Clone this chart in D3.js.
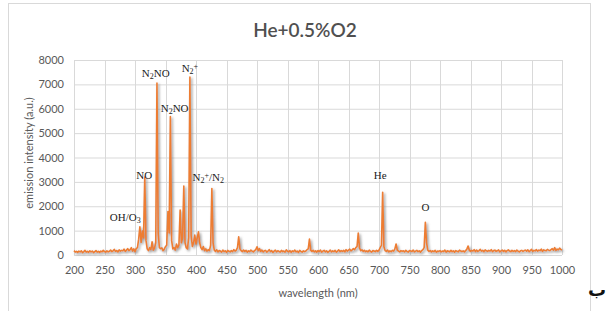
<!DOCTYPE html>
<html>
<head>
<meta charset="utf-8">
<script src="https://cdn.jsdelivr.net/npm/d3@7"></script>
<style>
  body { margin: 0; background: #fff; }
</style>
</head>
<body>
<div id="chart"></div>
<script>
// spectrum sampled every 2 nm, 200..1000 nm
const wlStart = 200;
const wlStep = 2;
const intensity = [
  180,120,150,110,160,130,170,100,140,190, // 200
  120,150,110,170,130,160,100,140,180,120, // 220
  150,110,160,130,190,140,120,170,130,150, // 240
  200,140,170,230,150,180,130,210,160,190, // 260
  170,240,150,200,260,180,220,300,160,250, // 280
  140,260,300,650,1160,520,980,700,3200,600, // 300
  250,180,300,220,540,200,280,500,7050,900, // 320
  300,260,290,180,240,350,400,1780,900,5680, // 340
  600,250,300,200,450,300,400,1840,500,700, // 360
  2830,500,300,250,700,7300,800,350,500,820, // 380
  450,700,950,500,300,220,350,180,250,160, // 400
  220,180,400,2730,500,200,150,210,130,180, // 420
  160,120,200,140,170,110,190,150,130,180, // 440
  140,220,160,200,300,750,250,180,140,200, // 460
  150,190,120,170,140,200,160,130,180,220, // 480
  340,180,260,150,200,130,170,190,120,160, // 500
  220,140,180,110,160,200,130,170,150,120, // 520
  190,140,160,120,210,150,130,180,110,170, // 540
  140,200,130,160,110,190,150,120,170,140, // 560
  160,220,250,650,200,150,190,130,170,120, // 580
  180,140,200,120,160,190,130,170,110,150, // 600
  200,130,170,140,190,120,160,210,140,180, // 620
  150,190,130,220,160,200,240,170,210,260, // 640
  220,300,350,900,300,180,210,150,190,140, // 660
  170,130,200,150,120,180,160,140,190,150, // 680
  200,300,400,2570,350,180,150,200,130,170, // 700
  140,190,160,250,450,200,160,130,180,150, // 720
  170,130,190,150,120,180,160,140,200,130, // 740
  160,190,140,170,120,180,220,300,1340,500, // 760
  200,150,180,130,170,140,190,120,160,150, // 780
  180,130,160,140,200,120,170,150,130,190, // 800
  140,170,120,180,150,130,200,160,140,170, // 820
  130,180,240,370,200,150,190,160,220,140, // 840
  200,150,180,230,160,190,140,210,170,150, // 860
  190,160,220,140,180,200,150,170,210,130, // 880
  170,200,150,190,130,180,210,160,140,190, // 900
  150,180,140,200,160,130,170,190,150,180, // 920
  200,160,210,140,180,230,150,190,170,220, // 940
  160,200,180,240,150,210,190,170,230,200, // 960
  180,220,260,200,300,190,240,210,280,230, // 980
  200 // 1000
];

const xTicks = [200,250,300,350,400,450,500,550,600,650,700,750,800,850,900,950,1000];
const yTicks = [0,1000,2000,3000,4000,5000,6000,7000,8000];

// peak labels placed at wavelength / intensity, parts = [text, sub|sup|""]
const peakLabels = [
  {wl: 334, val: 7300, parts: [["N",""],["2","sub"],["NO",""]]},
  {wl: 390, val: 7500, parts: [["N",""],["2","sub"],["+","sup"]]},
  {wl: 365, val: 5870, parts: [["N",""],["2","sub"],["NO",""]]},
  {wl: 315, val: 3120, parts: [["NO",""]]},
  {wl: 284, val: 1400, parts: [["OH/O",""],["3","sub"]]},
  {wl: 420, val: 3040, parts: [["N",""],["2","sub"],["+","sup"],["/N",""],["2","sub"]]},
  {wl: 702, val: 3120, parts: [["He",""]]},
  {wl: 776, val: 1800, parts: [["O",""]]}
];

const width = 608, height = 311;
const grey = "#595959";
const tickFont = "Lato, 'Open Sans', sans-serif";

const svg = d3.select("#chart").append("svg")
  .attr("width", width)
  .attr("height", height);

svg.append("rect")
  .attr("x", 8.5).attr("y", 3.5)
  .attr("width", 582).attr("height", 330)
  .attr("fill", "#fff")
  .attr("stroke", "#d9d9d9");

let defs = svg.append("defs");
let shadow = defs.append("filter").attr("id", "shadow")
  .attr("x", "-20%").attr("y", "-20%").attr("width", "140%").attr("height", "140%");
shadow.append("feDropShadow")
  .attr("dx", 1.5).attr("dy", 1.5)
  .attr("stdDeviation", 1.2)
  .attr("flood-color", "#808080")
  .attr("flood-opacity", 0.8);

let x = d3.scaleLinear().domain([200, 1000]).range([74, 562]);
let y = d3.scaleLinear().domain([0, 8000]).range([255, 60]);

// gridlines
svg.append("g")
  .selectAll("line")
  .data(yTicks)
  .enter()
  .append("line")
  .attr("x1", x(200)).attr("x2", x(1000))
  .attr("y1", d => y(d) + 0.5).attr("y2", d => y(d) + 0.5)
  .attr("stroke", "#d9d9d9")
  .attr("stroke-width", 1);

svg.append("g")
  .selectAll("line")
  .data(xTicks)
  .enter()
  .append("line")
  .attr("x1", d => Math.round(x(d)) + 0.5).attr("x2", d => Math.round(x(d)) + 0.5)
  .attr("y1", y(8000)).attr("y2", y(0))
  .attr("stroke", "#d9d9d9")
  .attr("stroke-width", 1);

// axes (labels only)
let xAxis = svg.append("g")
  .attr("transform", "translate(0," + (y(0) + 6) + ")")
  .call(d3.axisBottom(x).tickValues(xTicks).tickFormat(d3.format("d")).tickSize(0).tickPadding(5));
let yAxis = svg.append("g")
  .attr("transform", "translate(" + (x(200) - 9) + ",0)")
  .call(d3.axisLeft(y).tickValues(yTicks).tickFormat(d3.format("d")).tickSize(0).tickPadding(1));
[xAxis, yAxis].forEach(function (g) {
  g.select(".domain").remove();
  g.selectAll("text")
    .attr("fill", grey)
    .style("font-family", tickFont)
    .style("font-size", "11px");
});

// spectrum
let points = intensity.map((v, i) => [wlStart + i * wlStep, v]);
let line = d3.line()
  .x(d => x(d[0]))
  .y(d => y(d[1]));

svg.append("path")
  .datum(points)
  .attr("d", line)
  .attr("fill", "none")
  .attr("stroke", "#ED7D31")
  .attr("stroke-width", 1.6)
  .attr("stroke-linejoin", "round")
  .attr("filter", "url(#shadow)");

// peak labels
let labels = svg.append("g")
  .selectAll("text")
  .data(peakLabels)
  .enter()
  .append("text")
  .attr("x", d => x(d.wl))
  .attr("y", d => y(d.val))
  .attr("text-anchor", "middle")
  .style("font-family", "'Liberation Serif', 'Times New Roman', serif")
  .style("font-size", "11px")
  .attr("fill", "#222");

labels.each(function (d) {
  let t = d3.select(this);
  d.parts.forEach(function (p) {
    let span = t.append("tspan").text(p[0]);
    if (p[1] === "sub") span.attr("baseline-shift", "-25%").style("font-size", "8px");
    if (p[1] === "sup") span.attr("baseline-shift", "40%").style("font-size", "8px");
  });
});

// title and axis titles
svg.append("text")
  .attr("x", 305).attr("y", 37)
  .attr("text-anchor", "middle")
  .attr("fill", "#505050")
  .style("font-family", tickFont)
  .style("font-size", "19px")
  .style("font-weight", "600")
  .text("He+0.5%O2");

svg.append("text")
  .attr("x", 318).attr("y", 297)
  .attr("text-anchor", "middle")
  .attr("fill", grey)
  .style("font-family", tickFont)
  .style("font-size", "11px")
  .text("wavelength (nm)");

svg.append("text")
  .attr("transform", "translate(33,153) rotate(-90)")
  .attr("text-anchor", "middle")
  .attr("fill", grey)
  .style("font-family", tickFont)
  .style("font-size", "11px")
  .text("emission intensity (a.u.)");

svg.append("text")
  .attr("x", 606).attr("y", 296)
  .attr("text-anchor", "end")
  .attr("fill", "#111")
  .style("font-family", "'DejaVu Sans', 'Noto Sans', sans-serif")
  .style("font-size", "18px")
  .style("font-weight", "bold")
  .text("ب");
</script>
</body>
</html>
